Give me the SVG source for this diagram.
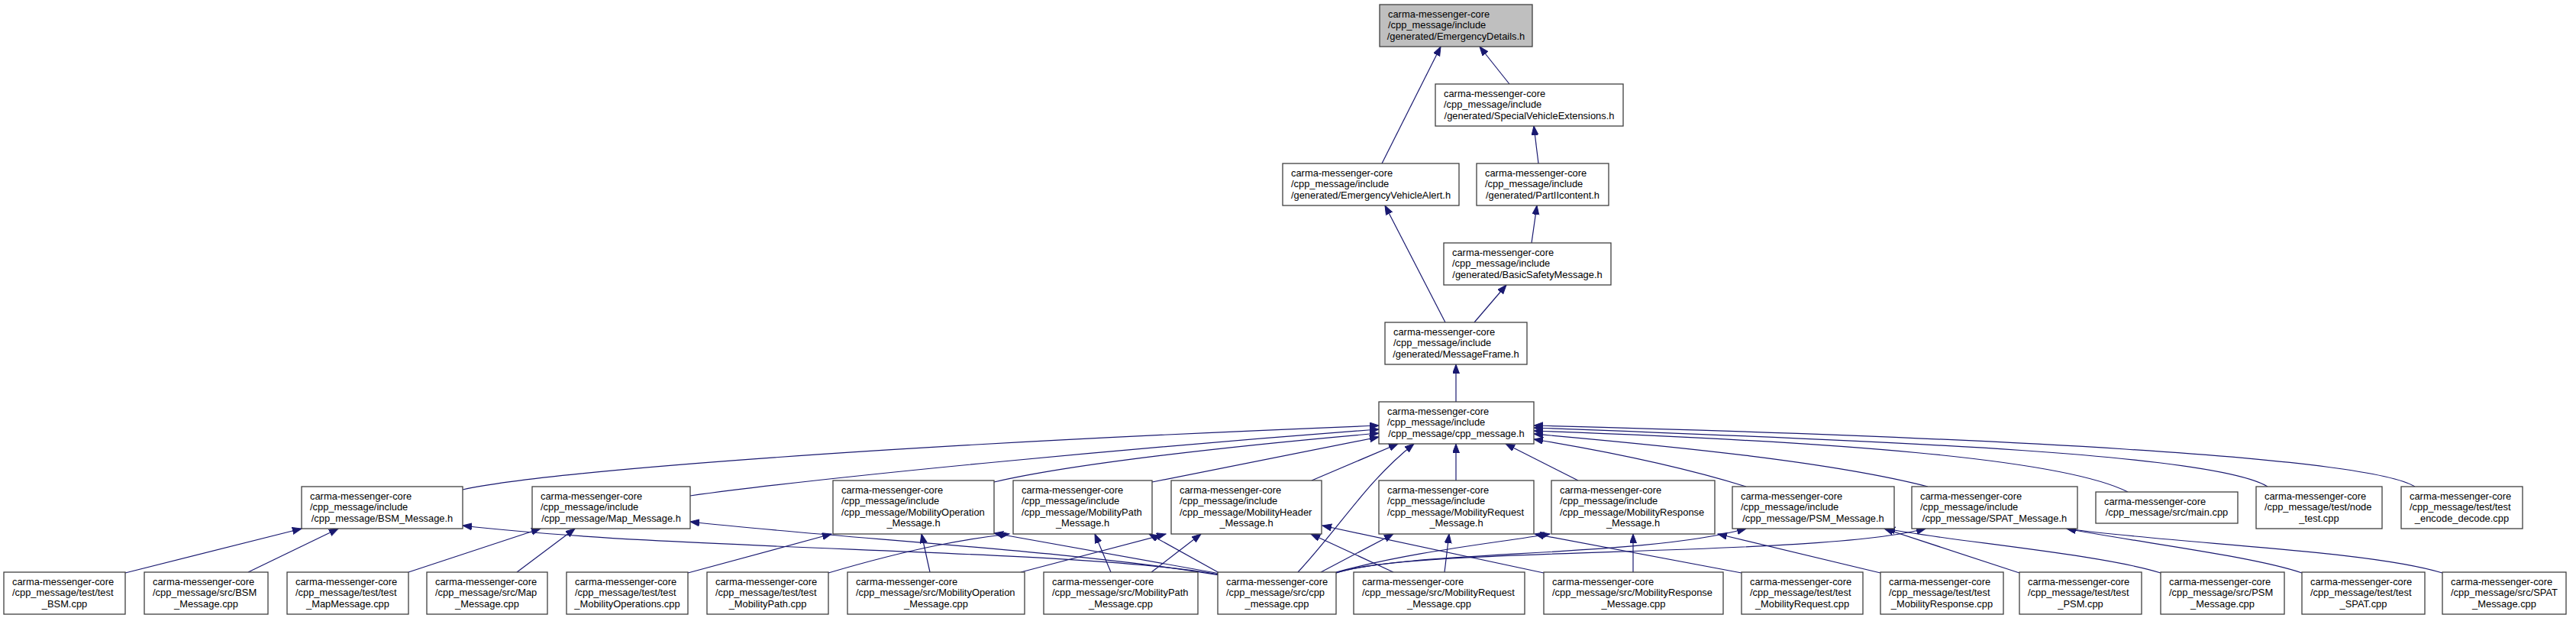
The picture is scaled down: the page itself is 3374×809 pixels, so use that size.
<svg xmlns="http://www.w3.org/2000/svg" width="3374" height="809" viewBox="0 0 3374 809">
<style>
.n rect{fill:#fff;stroke:#404040;stroke-width:1.3}
.n rect.g{fill:#bfbfbf}
.n text{font-family:"Liberation Sans",Arial,Helvetica,sans-serif;font-size:12.9px;fill:#000}
.n text.c{text-anchor:middle}
.e path{fill:none;stroke:#191970;stroke-width:1.2;marker-end:url(#a)}
</style>
<defs>
<marker id="a" markerUnits="userSpaceOnUse" markerWidth="14" markerHeight="11" refX="12" refY="4.5" orient="auto"><path d="M0,0L12,4.5L0,9z" fill="#191970" stroke="#191970" stroke-width="1"/></marker>
</defs>
<rect width="3374" height="809" fill="#fff"/>
<g id="edges" class="e">
<path d="M1810,214 L1887,61"/>
<path d="M1977,110 L1938,61"/>
<path d="M2015,214 L2009,165"/>
<path d="M2006,318 L2013,269"/>
<path d="M1893,422 L1814,269"/>
<path d="M1931,422 L1973,373"/>
<path d="M1907,526 L1907,477"/>
<path d="M606,641 C700,620 1100,585 1806,557"/>
<path d="M904,649 C1100,622 1500,585 1806,562"/>
<path d="M1302,631 C1400,608 1600,585 1806,567"/>
<path d="M1509,631 L1806,572"/>
<path d="M1718,629 L1831,581"/>
<path d="M1700,749 C1755,690 1790,630 1852,581"/>
<path d="M1907,629 L1907,581"/>
<path d="M2067,629 L1972,581"/>
<path d="M2287,637 C2200,610 2100,590 2009,575"/>
<path d="M2525,637 C2400,605 2200,585 2009,568"/>
<path d="M2787,644 C2700,600 2400,578 2009,564"/>
<path d="M2970,637 C2900,595 2500,578 2009,560"/>
<path d="M3163,637 C3100,598 2600,572 2009,557"/>
<path d="M164,750 L395,692"/>
<path d="M325,749 L443,692"/>
<path d="M1597,752 C1400,718 900,722 606,688"/>
<path d="M535,749 L708,692"/>
<path d="M677,749 L753,692"/>
<path d="M1597,753 C1400,720 1100,705 904,683"/>
<path d="M901,750 L1089,699"/>
<path d="M1218,749 L1207,699"/>
<path d="M1598,751 L1302,698"/>
<path d="M1085,750 C1200,716 1270,705 1322,699"/>
<path d="M1455,749 L1434,699"/>
<path d="M1597,750 L1505,699"/>
<path d="M1337,749 L1527,699"/>
<path d="M1508,749 L1573,699"/>
<path d="M1825,749 L1717,699"/>
<path d="M2022,750 L1732,688"/>
<path d="M1730,749 L1825,699"/>
<path d="M1892,749 L1898,699"/>
<path d="M2281,750 L2010,699"/>
<path d="M1750,749 C1850,722 1950,712 2030,699"/>
<path d="M2139,749 L2139,699"/>
<path d="M2463,750 L2250,699"/>
<path d="M1750,750 C1850,720 2150,730 2287,692"/>
<path d="M1750,750 C1850,715 2380,730 2522,692"/>
<path d="M2645,750 L2468,692"/>
<path d="M2830,750 C2750,725 2550,708 2470,692"/>
<path d="M3015,750 C2950,728 2800,710 2707,692"/>
<path d="M3199,750 C3100,720 2850,712 2707,692"/>
</g>
<g id="n0" class="n"><rect class="g" x="1807" y="6" width="200" height="55"/><text x="1818" y="22.5">carma-messenger-core</text><text x="1818" y="37">/cpp_message/include</text><text class="c" x="1907" y="51.5">/generated/EmergencyDetails.h</text></g>
<g id="n1" class="n"><rect x="1880" y="110" width="246" height="55"/><text x="1891" y="126.5">carma-messenger-core</text><text x="1891" y="141">/cpp_message/include</text><text class="c" x="2003" y="155.5">/generated/SpecialVehicleExtensions.h</text></g>
<g id="n2" class="n"><rect x="1680" y="214" width="231" height="55"/><text x="1691" y="230.5">carma-messenger-core</text><text x="1691" y="245">/cpp_message/include</text><text class="c" x="1795.5" y="259.5">/generated/EmergencyVehicleAlert.h</text></g>
<g id="n3" class="n"><rect x="1934" y="214" width="173" height="55"/><text x="1945" y="230.5">carma-messenger-core</text><text x="1945" y="245">/cpp_message/include</text><text class="c" x="2020.5" y="259.5">/generated/PartIIcontent.h</text></g>
<g id="n4" class="n"><rect x="1891" y="318" width="219" height="55"/><text x="1902" y="334.5">carma-messenger-core</text><text x="1902" y="349">/cpp_message/include</text><text class="c" x="2000.5" y="363.5">/generated/BasicSafetyMessage.h</text></g>
<g id="n5" class="n"><rect x="1814" y="422" width="186" height="55"/><text x="1825" y="438.5">carma-messenger-core</text><text x="1825" y="453">/cpp_message/include</text><text class="c" x="1907" y="467.5">/generated/MessageFrame.h</text></g>
<g id="n6" class="n"><rect x="1806" y="526" width="203" height="55"/><text x="1817" y="542.5">carma-messenger-core</text><text x="1817" y="557">/cpp_message/include</text><text class="c" x="1907.5" y="571.5">/cpp_message/cpp_message.h</text></g>
<g id="n7" class="n"><rect x="395" y="637" width="211" height="55"/><text x="406" y="653.5">carma-messenger-core</text><text x="406" y="668">/cpp_message/include</text><text class="c" x="500.5" y="682.5">/cpp_message/BSM_Message.h</text></g>
<g id="n8" class="n"><rect x="697" y="637" width="207" height="55"/><text x="708" y="653.5">carma-messenger-core</text><text x="708" y="668">/cpp_message/include</text><text class="c" x="800.5" y="682.5">/cpp_message/Map_Message.h</text></g>
<g id="n9" class="n"><rect x="1091" y="629" width="211" height="70"/><text x="1102" y="645.5">carma-messenger-core</text><text x="1102" y="660">/cpp_message/include</text><text x="1102" y="674.5">/cpp_message/MobilityOperation</text><text class="c" x="1196.5" y="689">_Message.h</text></g>
<g id="n10" class="n"><rect x="1327" y="629" width="182" height="70"/><text x="1338" y="645.5">carma-messenger-core</text><text x="1338" y="660">/cpp_message/include</text><text x="1338" y="674.5">/cpp_message/MobilityPath</text><text class="c" x="1418" y="689">_Message.h</text></g>
<g id="n11" class="n"><rect x="1534" y="629" width="197" height="70"/><text x="1545" y="645.5">carma-messenger-core</text><text x="1545" y="660">/cpp_message/include</text><text x="1545" y="674.5">/cpp_message/MobilityHeader</text><text class="c" x="1632.5" y="689">_Message.h</text></g>
<g id="n12" class="n"><rect x="1806" y="629" width="203" height="70"/><text x="1817" y="645.5">carma-messenger-core</text><text x="1817" y="660">/cpp_message/include</text><text x="1817" y="674.5">/cpp_message/MobilityRequest</text><text class="c" x="1907.5" y="689">_Message.h</text></g>
<g id="n13" class="n"><rect x="2032" y="629" width="214" height="70"/><text x="2043" y="645.5">carma-messenger-core</text><text x="2043" y="660">/cpp_message/include</text><text x="2043" y="674.5">/cpp_message/MobilityResponse</text><text class="c" x="2139" y="689">_Message.h</text></g>
<g id="n14" class="n"><rect x="2269" y="637" width="212" height="55"/><text x="2280" y="653.5">carma-messenger-core</text><text x="2280" y="668">/cpp_message/include</text><text class="c" x="2375" y="682.5">/cpp_message/PSM_Message.h</text></g>
<g id="n15" class="n"><rect x="2504" y="637" width="217" height="55"/><text x="2515" y="653.5">carma-messenger-core</text><text x="2515" y="668">/cpp_message/include</text><text class="c" x="2612.5" y="682.5">/cpp_message/SPAT_Message.h</text></g>
<g id="n16" class="n"><rect x="2745" y="644" width="186" height="41"/><text x="2756" y="660.5">carma-messenger-core</text><text class="c" x="2838" y="675">/cpp_message/src/main.cpp</text></g>
<g id="n17" class="n"><rect x="2955" y="637" width="165" height="55"/><text x="2966" y="653.5">carma-messenger-core</text><text x="2966" y="668">/cpp_message/test/node</text><text class="c" x="3037.5" y="682.5">_test.cpp</text></g>
<g id="n18" class="n"><rect x="3145" y="637" width="159" height="55"/><text x="3156" y="653.5">carma-messenger-core</text><text x="3156" y="668">/cpp_message/test/test</text><text class="c" x="3224.5" y="682.5">_encode_decode.cpp</text></g>
<g id="n19" class="n"><rect x="5" y="749" width="159" height="55"/><text x="16" y="765.5">carma-messenger-core</text><text x="16" y="780">/cpp_message/test/test</text><text class="c" x="84.5" y="794.5">_BSM.cpp</text></g>
<g id="n20" class="n"><rect x="189" y="749" width="162" height="55"/><text x="200" y="765.5">carma-messenger-core</text><text x="200" y="780">/cpp_message/src/BSM</text><text class="c" x="270" y="794.5">_Message.cpp</text></g>
<g id="n21" class="n"><rect x="376" y="749" width="159" height="55"/><text x="387" y="765.5">carma-messenger-core</text><text x="387" y="780">/cpp_message/test/test</text><text class="c" x="455.5" y="794.5">_MapMessage.cpp</text></g>
<g id="n22" class="n"><rect x="559" y="749" width="158" height="55"/><text x="570" y="765.5">carma-messenger-core</text><text x="570" y="780">/cpp_message/src/Map</text><text class="c" x="638" y="794.5">_Message.cpp</text></g>
<g id="n23" class="n"><rect x="742" y="749" width="159" height="55"/><text x="753" y="765.5">carma-messenger-core</text><text x="753" y="780">/cpp_message/test/test</text><text class="c" x="821.5" y="794.5">_MobilityOperations.cpp</text></g>
<g id="n24" class="n"><rect x="926" y="749" width="159" height="55"/><text x="937" y="765.5">carma-messenger-core</text><text x="937" y="780">/cpp_message/test/test</text><text class="c" x="1005.5" y="794.5">_MobilityPath.cpp</text></g>
<g id="n25" class="n"><rect x="1110" y="749" width="232" height="55"/><text x="1121" y="765.5">carma-messenger-core</text><text x="1121" y="780">/cpp_message/src/MobilityOperation</text><text class="c" x="1226" y="794.5">_Message.cpp</text></g>
<g id="n26" class="n"><rect x="1367" y="749" width="202" height="55"/><text x="1378" y="765.5">carma-messenger-core</text><text x="1378" y="780">/cpp_message/src/MobilityPath</text><text class="c" x="1468" y="794.5">_Message.cpp</text></g>
<g id="n27" class="n"><rect x="1595" y="749" width="155" height="55"/><text x="1606" y="765.5">carma-messenger-core</text><text x="1606" y="780">/cpp_message/src/cpp</text><text class="c" x="1672.5" y="794.5">_message.cpp</text></g>
<g id="n28" class="n"><rect x="1773" y="749" width="224" height="55"/><text x="1784" y="765.5">carma-messenger-core</text><text x="1784" y="780">/cpp_message/src/MobilityRequest</text><text class="c" x="1885" y="794.5">_Message.cpp</text></g>
<g id="n29" class="n"><rect x="2022" y="749" width="235" height="55"/><text x="2033" y="765.5">carma-messenger-core</text><text x="2033" y="780">/cpp_message/src/MobilityResponse</text><text class="c" x="2139.5" y="794.5">_Message.cpp</text></g>
<g id="n30" class="n"><rect x="2281" y="749" width="159" height="55"/><text x="2292" y="765.5">carma-messenger-core</text><text x="2292" y="780">/cpp_message/test/test</text><text class="c" x="2360.5" y="794.5">_MobilityRequest.cpp</text></g>
<g id="n31" class="n"><rect x="2463" y="749" width="161" height="55"/><text x="2474" y="765.5">carma-messenger-core</text><text x="2474" y="780">/cpp_message/test/test</text><text class="c" x="2543.5" y="794.5">_MobilityResponse.cpp</text></g>
<g id="n32" class="n"><rect x="2645" y="749" width="160" height="55"/><text x="2656" y="765.5">carma-messenger-core</text><text x="2656" y="780">/cpp_message/test/test</text><text class="c" x="2725" y="794.5">_PSM.cpp</text></g>
<g id="n33" class="n"><rect x="2830" y="749" width="162" height="55"/><text x="2841" y="765.5">carma-messenger-core</text><text x="2841" y="780">/cpp_message/src/PSM</text><text class="c" x="2911" y="794.5">_Message.cpp</text></g>
<g id="n34" class="n"><rect x="3015" y="749" width="161" height="55"/><text x="3026" y="765.5">carma-messenger-core</text><text x="3026" y="780">/cpp_message/test/test</text><text class="c" x="3095.5" y="794.5">_SPAT.cpp</text></g>
<g id="n35" class="n"><rect x="3199" y="749" width="162" height="55"/><text x="3210" y="765.5">carma-messenger-core</text><text x="3210" y="780">/cpp_message/src/SPAT</text><text class="c" x="3280" y="794.5">_Message.cpp</text></g>
</svg>
